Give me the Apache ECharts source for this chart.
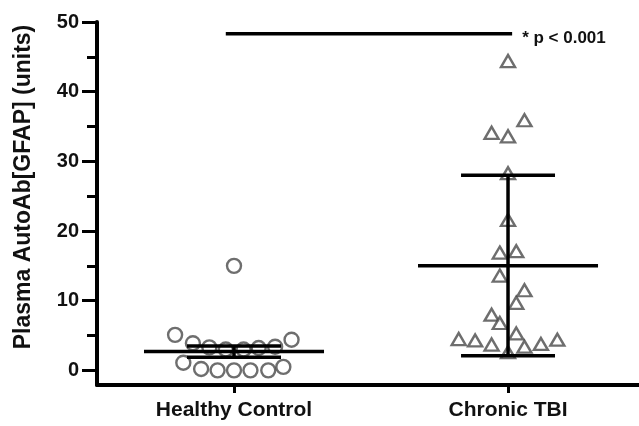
<!DOCTYPE html>
<html>
<head>
<meta charset="utf-8">
<script src="https://cdn.jsdelivr.net/npm/echarts@6/dist/echarts.min.js"></script>
<style>
html,body{margin:0;padding:0;background:#fff;}
#chart{width:639px;height:426px;}
</style>
</head>
<body>
<div id="chart"></div>
<script>
// ---- data ----
const categories = ['Healthy Control', 'Chronic TBI'];
const categoryPos = [1, 3];
const yTicks = [0, 10, 20, 30, 40, 50];
const yMinorTicks = [5, 15, 25, 35, 45];

// Healthy Control: x jitter offset (category units) and value
const healthyOffsets = [0, -0.43, -0.30, -0.18, -0.06, 0.07, 0.18, 0.30, 0.42, -0.37, -0.24, -0.12, 0, 0.12, 0.25, 0.36];
const healthyValues  = [15.0, 5.1, 3.9, 3.3, 3.0, 3.0, 3.2, 3.4, 4.4, 1.1, 0.2, 0, 0, 0, 0, 0.5];

// Chronic TBI
const tbiOffsets = [0, 0.12, -0.12, 0, 0, 0, -0.06, 0.06, -0.06, 0.12, 0.06, -0.12, -0.06, 0.06, -0.36, -0.24, -0.12, 0.12, 0.24, 0.36, 0];
const tbiValues  = [44.4, 35.9, 34.1, 33.6, 28.3, 21.6, 16.9, 17.1, 13.6, 11.5, 9.7, 8.0, 6.8, 5.3, 4.5, 4.3, 3.7, 3.4, 3.8, 4.4, 2.6];

// summary lines: mean, lower, upper
const means  = [2.7, 15.0];
const lowers = [1.9, 2.1];
const uppers = [3.5, 28.0];

// significance bar
const sigX = [0.94, 3.03];
const sigY = 48.3;
const sigText = '* p < 0.001';

// ---- build ----
const FONT = 'Liberation Sans, Arial, Helvetica, sans-serif';
const healthyData = healthyValues.map((v, i) => [categoryPos[0] + healthyOffsets[i], v]);
const tbiData = tbiValues.map((v, i) => [categoryPos[1] + tbiOffsets[i], v]);
const summaryData = categoryPos.map((x, i) => [x, means[i], lowers[i], uppers[i]]);

const MEAN_HALF = 0.657, CAP_HALF = 0.343;

const chart = echarts.init(document.getElementById('chart'), null, {renderer: 'canvas'});
chart.setOption({
  animation: false,
  backgroundColor: '#fff',
  grid: {left: 97, right: 0, top: 22, bottom: 41, containLabel: false},
  xAxis: {
    type: 'value', min: 0, max: 3.956,
    splitLine: {show: false},
    axisLine: {show: true, onZero: false, lineStyle: {color: '#000', width: 4}},
    axisTick: {show: true, customValues: categoryPos, length: 8, lineStyle: {color: '#000', width: 3}},
    axisLabel: {
      show: true, customValues: categoryPos, margin: 15,
      formatter: v => categories[categoryPos.indexOf(Math.round(v))] || '',
      fontFamily: FONT, fontWeight: 'bold', fontSize: 21, color: '#111'
    }
  },
  yAxis: [{
    type: 'value', min: -2.1, max: 50,
    splitLine: {show: false},
    axisLine: {show: true, onZero: false, lineStyle: {color: '#000', width: 4}},
    axisTick: {show: true, customValues: yTicks, length: 15, lineStyle: {color: '#000', width: 3}},
    axisLabel: {show: true, customValues: yTicks, margin: 18, fontFamily: FONT, fontWeight: 'bold', fontSize: 20, color: '#111'}
  }, {
    type: 'value', min: -2.1, max: 50, position: 'left',
    splitLine: {show: false},
    axisLine: {show: false},
    axisTick: {show: true, customValues: yMinorTicks, length: 10, lineStyle: {color: '#000', width: 3}},
    axisLabel: {show: false}
  }],
  graphic: [{
    type: 'text', x: 24, y: 187, rotation: Math.PI / 2,
    style: {text: 'Plasma AutoAb[GFAP] (units)', fontFamily: FONT, fontWeight: 'bold', fontSize: 23, fill: '#111', align: 'center', verticalAlign: 'middle'}
  }],
  series: [{
    name: categories[0], type: 'scatter', data: healthyData, symbol: 'circle', symbolSize: 14,
    itemStyle: {color: '#fff', borderColor: '#4a4a4a', borderWidth: 2.4}, z: 2
  }, {
    name: categories[1], type: 'scatter', data: tbiData, symbol: 'triangle', symbolSize: [14, 12],
    itemStyle: {color: '#fff', borderColor: '#4a4a4a', borderWidth: 2.4}, z: 2
  }, {
    type: 'custom', data: summaryData, z: 3,
    renderItem: function (params, api) {
      const x = api.value(0), m = api.value(1), lo = api.value(2), hi = api.value(3);
      const st = {stroke: '#000', lineWidth: 3.5};
      const seg = (a, b) => ({type: 'line', shape: {x1: a[0], y1: a[1], x2: b[0], y2: b[1]}, style: st});
      return {type: 'group', children: [
        seg(api.coord([x - MEAN_HALF, m]), api.coord([x + MEAN_HALF, m])),
        seg(api.coord([x, lo]), api.coord([x, hi])),
        seg(api.coord([x - CAP_HALF, lo]), api.coord([x + CAP_HALF, lo])),
        seg(api.coord([x - CAP_HALF, hi]), api.coord([x + CAP_HALF, hi]))
      ]};
    }
  }, {
    type: 'line', z: 3, symbol: 'none', showSymbol: false,
    lineStyle: {color: '#000', width: 3.5},
    endLabel: {show: true, formatter: sigText, distance: 10, offset: [0, 4], fontFamily: FONT, fontWeight: 'bold', fontSize: 17, color: '#111'},
    data: [[sigX[0], sigY], [sigX[1], sigY]]
  }]
});
</script>
</body>
</html>
